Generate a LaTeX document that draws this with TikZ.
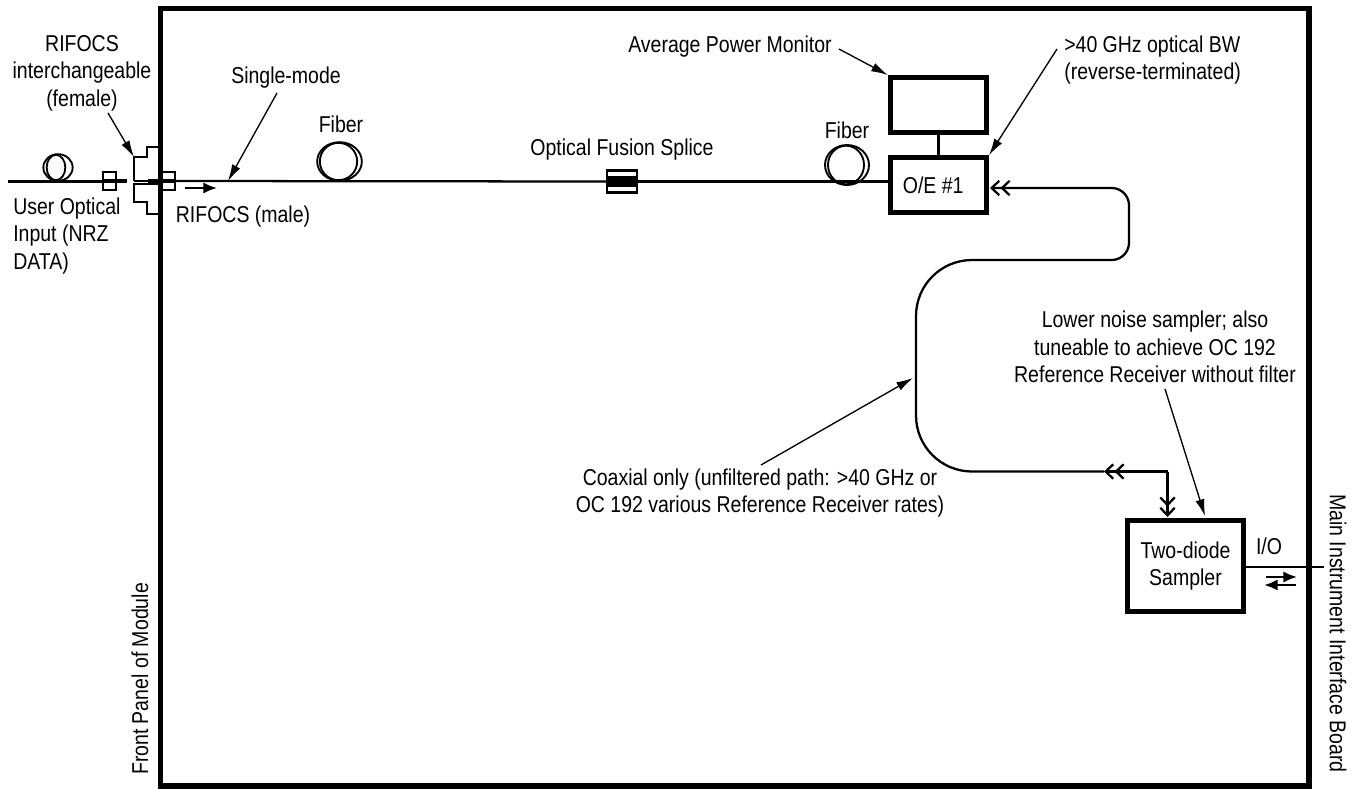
\documentclass[tikz,border=0pt]{standalone}
\usepackage{fontspec}
\setmainfont[FakeStretch=0.85]{Liberation Sans}
\usetikzlibrary{arrows.meta,shapes.geometric}
\tikzset{
  panel/.style={draw, line width=4.2pt, inner sep=0pt, outer sep=0pt, anchor=north west, minimum width=861.4pt, minimum height=583pt},
  modbox/.style={draw, line width=3.9pt, inner sep=0pt, align=center, font=\labeltext},
  lbl/.style={inner sep=0pt, align=center, font=\labeltext},
  conn/.style={draw, line width=1.5pt, inner sep=0pt, minimum width=10pt, minimum height=14pt},
  splice/.style={draw, line width=1.7pt, inner sep=0pt, minimum width=22pt, minimum height=16.5pt},
  splicecore/.style={fill=black, inner sep=0pt, minimum width=22pt, minimum height=8pt},
  coil/.style={draw, ellipse, line width=1.4pt, inner sep=0pt},
  fibre/.style={line width=1.7pt},
  thickfibre/.style={line width=3.2pt},
  coax/.style={line width=1.7pt},
  chev/.style={{Straight Barb[length=2mm,width=3.8mm,line width=1.7pt]Straight Barb[length=2mm,width=3.8mm,line width=1.7pt]}-},
  chevend/.style={-{Straight Barb[length=2mm,width=3.8mm,line width=1.7pt]Straight Barb[length=2mm,width=3.8mm,line width=1.7pt]}},
  lead/.style={-{Latex[length=4.4mm,width=2.4mm]}, line width=1pt},
  dirarrow/.style={-{Latex[length=3.6mm,width=3mm]}, line width=1.9pt}
}
\newcommand{\labeltext}{\fontsize{17.2}{20.7}\selectfont}
\begin{document}
\begin{tikzpicture}[x=0.75pt,y=-0.75pt]
  \useasboundingbox (0,0) rectangle (1359,789);
  % module outline and boxes
  \node[panel] (module) at (160.5,8.5) {};
  \node[modbox, minimum width=72pt, minimum height=41pt] (monitor) at (938.5,105) {};
  \node[modbox, minimum width=72pt, minimum height=41pt] (oe) at (938.5,185) {\hspace*{-8pt}O/E \#1};
  \node[modbox, minimum width=87pt, minimum height=68.5pt] (sampler) at (1185.5,566) {Two-diode\\Sampler};

  % connectors and splice
  \node[conn] (userconn) at (109.5,181) {};
  \node[conn] (panelconn) at (168,181) {};
  \node[splice] (fusion) at (622,181.5) {};
  \node[splicecore] (splicefill) at (622,181.5) {};

  % fibre coils
  \node[coil, minimum width=22pt, minimum height=20pt] at (58,167.5) (coilA) {};
  \node[coil, minimum width=14pt, minimum height=19pt] at (56,167.5) (coilAin) {};
  \node[coil, minimum width=33.5pt, minimum height=29pt] at (339.5,161.5) (coilB) {};
  \node[coil, minimum width=28pt, minimum height=28pt] at (338.5,161.5) (coilBin) {};
  \node[coil, minimum width=33pt, minimum height=30pt] at (847,165) (coilC) {};
  \node[coil, minimum width=27pt, minimum height=29pt] at (846,165) (coilCin) {};

  \coordinate (input) at (8,181.5);
  \coordinate (femalein) at (134,181);
  \coordinate (femaleout) at (148,181);
  \draw[fibre] (input) -- (input -| userconn.west);
  \draw[thickfibre] (userconn.west) -- (127,181);
  \draw[fibre] (femalein) -- (femaleout);
  \draw[thickfibre] (femaleout) -- (panelconn.east);
  \draw[fibre] (panelconn.east) -- (fusion.west);
  \draw[fibre] (fusion.east) -- (oe.west |- fusion.east);

  % female receptacle
  \draw[line width=1.5pt] (158,147) -- (147,147) -- (147,157) -- (134,157) -- (134,181);
  \draw[line width=1.5pt] (158,184) -- (134,184) -- (134,202) -- (147,202) -- (147,214) -- (158,214);

  % coax path
  \coordinate (oein) at (990,188);
  \coordinate (coaxmid) at (1104,471.5);
  \coordinate (samplerin) at (1167.5,517);
  \draw[coax, chev] (oein) [rounded corners=13pt] -- (1129,188) -- (1129,260) [rounded corners=42pt] -- (916,260) -- (916,471.5) [sharp corners] -- (coaxmid);
  \draw[coax, chevend] (1167.5,471.5) -- (coaxmid);
  \draw[coax, chevend] (1167.5,471.5) -- (samplerin);

  % other links
  \draw[line width=1.7pt] (monitor.south) -- (oe.north);
  \coordinate (mainboard) at (1324,567);
  \draw[line width=1.5pt] (sampler.east |- mainboard) -- (mainboard);
  \coordinate (iotopA) at (1266,577);
  \coordinate (iotopB) at (1297,577);
  \coordinate (iobotA) at (1296,585);
  \coordinate (iobotB) at (1264,585);
  \draw[dirarrow] (iotopA) -- (iotopB);
  \draw[dirarrow] (iobotA) -- (iobotB);
  \coordinate (dirA) at (185,188);
  \coordinate (dirB) at (217,188);
  \draw[dirarrow] (dirA) -- (dirB);

  % labels
  \node[lbl] (rifocsf) at (82,73) {RIFOCS\\interchangeable\\(female)};
  \node[lbl] (singlemode) at (286,78) {Single-mode};
  \node[lbl] (fiberA) at (341,124) {Fiber};
  \node[lbl, align=left, anchor=west] (userinput) at (13,236) {User Optical\\Input (NRZ\\DATA)};
  \node[lbl] (rifocsm) at (243,217) {RIFOCS (male)};
  \node[lbl] (splicelbl) at (622,150) {Optical Fusion Splice};
  \node[lbl] (fiberC) at (847,130) {Fiber};
  \node[lbl] (avgpower) at (730,47) {Average Power Monitor};
  \node[lbl, align=left, anchor=west] (bandwidth) at (1064,60) {>40 GHz optical BW\\(reverse-terminated)};
  \node[lbl] (lowernoise) at (1155,347) {Lower noise sampler; also\\tuneable to achieve OC 192\\Reference Receiver without filter};
  \node[lbl] (coaxonly) at (760,493) {Coaxial only (unfiltered path: >40 GHz or\\OC 192 various Reference Receiver rates)};
  \node[lbl] (iolbl) at (1269,546) {I/O};
  \node[lbl, rotate=90] (frontpanel) at (140,679) {Front Panel of Module};
  \node[lbl, rotate=-90] (mainboardlbl) at (1338,633.5) {Main Instrument Interface Board};

  % leader arrows
  \coordinate (rifocsfrom) at (108,113);
  \coordinate (femaletip) at (134,157);
  \coordinate (singlefrom) at (277,93);
  \coordinate (singletip) at (228,181);
  \coordinate (avgfrom) at (839,49);
  \coordinate (bwfrom) at (1057,49);
  \coordinate (lowerfrom) at (1165,389);
  \coordinate (lowertip) at (1205,516);
  \coordinate (coaxfrom) at (761,465);
  \coordinate (coaxtip) at (913,378);
  \draw[lead] (rifocsfrom) -- (femaletip);
  \draw[lead] (singlefrom) -- (singletip);
  \draw[lead] (avgfrom) -- (monitor.north west);
  \draw[lead] (bwfrom) -- (oe.north east);
  \draw[lead] (lowerfrom) -- (lowertip);
  \draw[lead] (coaxfrom) -- (coaxtip);
\end{tikzpicture}
\end{document}
